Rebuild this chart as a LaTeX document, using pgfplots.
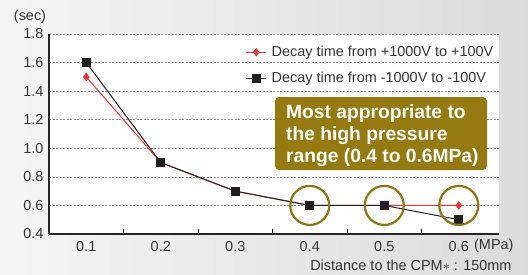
\documentclass[border=0pt]{standalone}
\usepackage{fontspec}
\setmainfont{Liberation Sans}
\usepackage{pgfplots}
\pgfplotsset{compat=1.18}
\definecolor{olivebox}{HTML}{957A12}
\definecolor{olivering}{HTML}{8E7515}
\definecolor{myred}{HTML}{EE3333}
\definecolor{myblack}{HTML}{231F20}
\definecolor{txt}{HTML}{333333}
\begin{document}
\begin{tikzpicture}[x=1bp,y=1bp]
\shade[left color=black!4, right color=black!14] (0,0) rectangle (528,274);
\begin{axis}[at={(49bp,40bp)}, anchor=south west, scale only axis,
  width=450bp, height=200bp,
  xmin=0.05, xmax=0.654, ymin=0.4, ymax=1.8,
  clip=false,
  axis x line*=bottom, axis y line*=left,
  axis line style={line width=1.2bp, black!85, -},
  axis background/.style={fill=white},
  xtick={0.1,0.2,0.3,0.4,0.5,0.6},
  xticklabels={0.1,0.2,0.3,0.4,0.5,0.6},
  minor xtick={0.15,0.25,0.35,0.45,0.55},
  major tick length=0pt, minor tick length=5bp, tick align=inside,
  minor tick style={line width=1bp, black},
  ytick={0.4,0.6,0.8,1.0,1.2,1.4,1.6,1.8},
  /pgf/number format/assume math mode=true,
  yticklabel style={xshift=-2bp, /pgf/number format/.cd, fixed, fixed zerofill, precision=1},
  ticklabel style={font=\fontsize{14.5}{14.5}\selectfont, text=txt},
  xticklabel style={yshift=-4bp},
  ymajorgrids, grid style={dash pattern=on 2bp off 1.5bp, black!45, line width=0.7bp},
  legend style={at={(0.43,0.96)}, anchor=north west, draw=none, fill=none,
    font=\fontsize{14.5}{14.5}\selectfont, text=txt, row sep=10bp, cells={anchor=west}},
  legend image code/.code={\draw[mark repeat=2,mark phase=2,#1] plot coordinates {(0bp,0bp)(10bp,0bp)(20bp,0bp)};},
]
\addplot[myred, line width=1bp, mark=diamond*, mark size=3.5bp, mark options={fill=myred, solid}]
  coordinates {(0.1,1.5)(0.2,0.9)(0.3,0.7)(0.4,0.6)(0.5,0.6)(0.6,0.6)};
\addlegendentry{\hspace{3bp}Decay time from +1000V to +100V}
\addplot[myblack, line width=1bp, mark=square*, mark size=4bp, mark options={fill=myblack, solid}]
  coordinates {(0.1,1.6)(0.2,0.9)(0.3,0.7)(0.4,0.6)(0.5,0.6)(0.6,0.5)};
\addlegendentry{\hspace{3bp}Decay time from -1000V to -100V}
\addplot[olivering, line width=2.2bp, only marks, mark=o, mark size=19.5bp, mark options={solid}, forget plot]
  coordinates {(0.4,0.6)(0.5,0.6)(0.6,0.6)};
\end{axis}
\fill[olivebox, rounded corners=4bp] (275,104) rectangle (487,177);
\node[anchor=base west, inner sep=0, text=white, font=\bfseries\fontsize{19.3}{23}\selectfont] at (286,156) {Most appropriate to};
\node[anchor=base west, inner sep=0, text=white, font=\bfseries\fontsize{19.3}{23}\selectfont] at (286,134) {the high pressure};
\node[anchor=base west, inner sep=0, text=white, font=\bfseries\fontsize{19.3}{23}\selectfont] at (286,112) {range (0.4 to 0.6MPa)};
\node[text=txt, font=\fontsize{14.5}{14.5}\selectfont] at (30,257) {(sec)};
\node[anchor=east, text=txt, font=\fontsize{14.5}{14.5}\selectfont] at (517,28) {(MPa)};
\node[anchor=east, text=txt, font=\fontsize{14.5}{14.5}\selectfont] at (515,9) {Distance to the CPM$\ast$ : 150mm};
\end{tikzpicture}
\end{document}
